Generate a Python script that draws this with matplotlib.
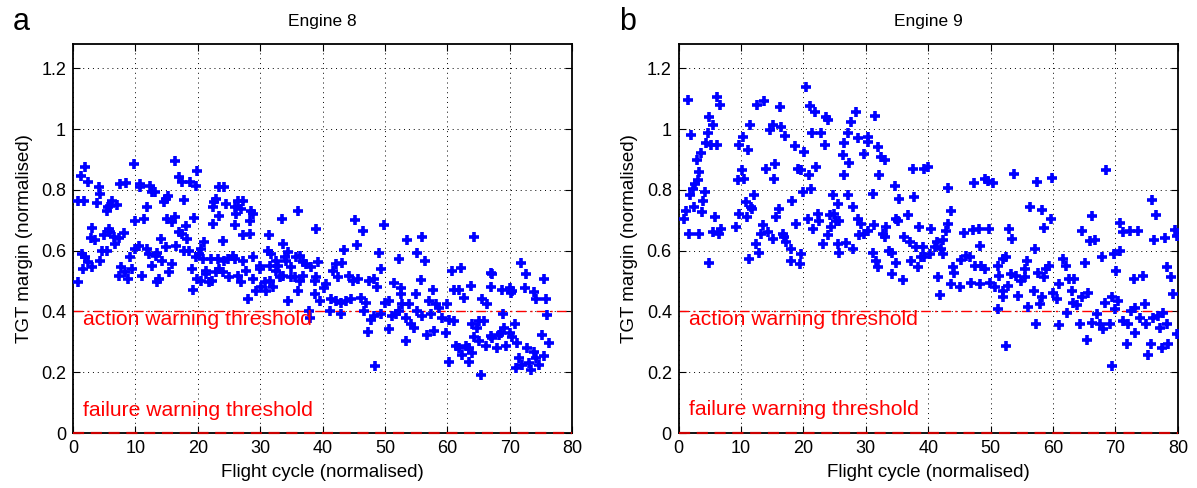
import matplotlib
matplotlib.use("Agg")
import matplotlib.pyplot as plt

plt.rcParams['font.family'] = ['Liberation Sans', 'DejaVu Sans']

# ---------------- Engine 8 data ----------------
e8_x = [1.94,1.29,2.48,4.09,4.36,0.86,1.83,3.82,6.24,5.97,7.05,5.43,5.59,7.58,8.5,9.73,10.7,10.8,12.26,12.7,
        13.1,11.9,11.35,10.0,14.84,15.27,14.57,16.35,16.99,17.53,18.77,19.68,19.84,17.8,19.4,16.35,15.1,15.9,18.07,16.99,
        17.53,18.34,14.03,14.84,16.45,17.8,18.6,3.12,2.9,3.55,4.89,5.7,5.97,6.5,6.77,7.31,8.12,4.62,5.43,1.4,
        1.94,2.48,3.01,1.67,0.86,4.36,7.74,7.31,8.39,8.82,9.2,9.46,10.0,10.54,11.08,11.88,12.15,12.7,13.23,13.5,
        14.3,13.76,13.5,15.38,15.9,19.14,19.25,19.68,20.2,20.5,20.76,21.0,20.5,21.3,21.8,22.1,23.2,22.9,24.0,24.25,
        24.8,25.05,25.6,25.9,26.4,26.9,27.2,28.8,28.0,28.8,29.35,29.9,30.2,30.7,31.0,31.5,31.2,31.8,32.0,32.6,
        32.85,33.1,33.7,33.9,34.2,34.5,34.5,35.0,35.5,35.8,36.3,36.1,36.3,36.9,37.4,37.85,37.96,38.8,39.0,39.0,
        36.1,33.55,31.4,33.7,22.4,22.6,22.9,23.4,24.25,24.5,23.4,22.4,25.9,26.4,27.2,26.1,25.9,26.9,28.55,28.8,
        28.3,27.2,28.3,24.0,21.3,19.95,22.3,23.4,27.75,29.9,31.5,32.6,35.0,36.9,38.2,38.8,39.2,
        45.18,46.4,45.45,49.77,48.97,49.34,53.5,55.9,55.06,56.45,52.3,55.7,57.7,54.95,51.4,52.5,52.55,43.5,42.1,43.1,
        41.6,42.4,44.3,44.8,45.6,47.5,48.3,48.7,40.5,40.3,39.6,41.3,42.1,43.0,43.7,44.5,46.1,46.9,46.7,41.2,
        43.0,47.2,48.4,47.7,48.3,49.3,50.0,50.6,50.7,51.2,51.7,52.3,52.8,53.3,53.3,53.9,54.15,54.7,55.2,56.0,
        56.8,57.1,57.35,57.9,58.15,58.7,59.2,59.75,60.0,60.3,61.1,61.35,61.9,62.4,62.96,63.5,64.0,63.5,60.3,65.4,
        60.8,62.2,61.1,61.9,62.7,63.75,64.3,67.0,67.2,66.95,65.6,66.4,68.7,70.0,70.2,70.4,68.9,64.0,65.1,65.9,
        64.8,64.3,65.1,66.2,67.0,67.2,68.0,68.3,68.6,69.1,69.4,70.0,70.4,70.85,71.2,71.8,72.6,72.5,73.9,74.2,
        75.8,75.5,76.0,75.1,76.3,71.5,71.0,72.0,73.1,73.4,74.2,74.7,75.5,73.9,72.8]
e8_y = [0.875,0.847,0.825,0.809,0.787,0.765,0.765,0.756,0.765,0.748,0.752,0.732,0.743,0.818,0.823,0.886,0.811,0.820,0.814,0.792,
        0.792,0.743,0.704,0.699,0.770,0.781,0.759,0.895,0.844,0.825,0.825,0.814,0.862,0.767,0.708,0.710,0.704,0.693,0.682,0.660,
        0.655,0.639,0.639,0.611,0.617,0.600,0.600,0.675,0.642,0.635,0.650,0.672,0.660,0.644,0.622,0.642,0.657,0.600,0.600,0.589,
        0.578,0.562,0.545,0.540,0.498,0.567,0.547,0.518,0.529,0.507,0.578,0.540,0.605,0.617,0.518,0.605,0.589,0.551,0.584,0.594,
        0.567,0.507,0.496,0.529,0.556,0.540,0.470,0.578,0.589,0.606,0.573,0.628,0.501,0.523,0.496,0.573,0.573,0.529,0.529,0.567,
        0.573,0.512,0.584,0.573,0.518,0.496,0.567,0.578,0.441,0.507,0.468,0.540,0.479,0.496,0.468,0.501,0.600,0.589,0.479,0.567,
        0.551,0.512,0.518,0.578,0.567,0.595,0.435,0.545,0.512,0.578,0.584,0.468,0.501,0.562,0.556,0.402,0.380,0.457,0.512,0.672,
        0.732,0.704,0.650,0.622,0.743,0.759,0.770,0.809,0.809,0.754,0.715,0.688,0.743,0.765,0.765,0.721,0.683,0.737,0.732,0.721,
        0.699,0.650,0.655,0.633,0.534,0.507,0.501,0.540,0.534,0.551,0.551,0.534,0.512,0.518,0.545,0.501,0.562,
        0.702,0.666,0.619,0.686,0.591,0.539,0.635,0.646,0.594,0.565,0.572,0.503,0.470,0.459,0.495,0.476,0.456,0.602,0.556,0.558,
        0.534,0.512,0.517,0.501,0.506,0.501,0.506,0.481,0.490,0.476,0.434,0.440,0.434,0.429,0.434,0.440,0.445,0.429,0.401,0.401,
        0.390,0.333,0.222,0.373,0.384,0.390,0.429,0.434,0.343,0.384,0.390,0.401,0.423,0.379,0.302,0.423,0.359,0.346,0.401,0.384,
        0.324,0.434,0.390,0.335,0.423,0.412,0.379,0.329,0.425,0.373,0.368,0.285,0.280,0.257,0.285,0.280,0.263,0.235,0.233,0.191,
        0.532,0.543,0.470,0.470,0.445,0.484,0.644,0.525,0.523,0.481,0.440,0.423,0.470,0.476,0.462,0.468,0.390,0.359,0.368,0.368,
        0.346,0.315,0.302,0.285,0.318,0.313,0.280,0.324,0.329,0.346,0.285,0.329,0.315,0.359,0.296,0.561,0.523,0.476,0.465,0.440,
        0.440,0.506,0.388,0.324,0.296,0.246,0.213,0.224,0.230,0.208,0.246,0.224,0.252,0.268,0.280]

# ---------------- Engine 9 data ----------------
e9_x = [1.47,2.0,6.16,6.64,4.83,5.47,4.67,4.4,5.2,6.1,3.6,2.9,3.33,3.07,2.69,2.27,1.84,1.2,0.77,2.53,
        3.76,4.29,3.97,1.73,3.23,4.93,5.89,5.57,6.43,6.8,9.2,9.73,9.47,9.73,10.27,11.44,11.07,10.16,10.53,10.8,
        11.6,12.13,11.76,10.96,11.33,12.5,13.73,12.4,12.83,13.47,13.2,14.0,15.5,15.35,14.7,15.07,16.4,16.3,17.1,16.0,
        15.6,15.07,14.27,16.67,16.93,17.2,18.0,18.0,18.16,18.7,18.8,19.07,19.6,19.6,19.4,20.1,20.4,21.05,21.9,21.36,
        22.8,23.6,24.0,23.5,22.0,20.9,21.2,19.9,20.7,22.3,22.5,21.6,23.07,23.9,24.25,24.4,24.9,24.8,25.6,25.2,
        25.7,25.5,25.7,26.8,26.5,26.3,26.5,27.1,27.3,27.6,28.4,28.7,27.2,28.0,27.9,28.8,29.2,28.9,29.7,30.3,
        29.7,30.3,30.4,31.5,32.0,32.4,33.1,32.1,31.2,31.3,31.1,31.6,31.9,32.7,33.1,33.3,33.7,34.2,34.2,34.8,
        35.2,34.7,35.3,34.9,35.9,36.1,36.7,37.7,37.5,37.0,37.2,38.0,38.5,38.3,39.3,39.1,39.3,38.8,
        40.0,43.1,43.7,43.2,42.8,47.3,49.1,49.5,50.4,53.7,57.5,59.9,68.5,75.8,76.5,56.3,58.2,59.6,58.6,66.2,
        64.7,65.9,66.7,70.8,71.2,72.4,73.6,76.2,77.9,79.5,79.8,53.0,53.4,49.8,48.2,47.1,45.7,43.9,44.1,43.6,
        41.6,41.9,45.1,45.2,46.1,46.7,47.5,48.3,46.9,48.3,48.5,49.1,49.9,50.7,51.2,52.0,52.5,51.4,52.0,51.9,
        51.1,52.4,52.8,53.3,54.1,54.4,54.9,55.5,55.9,55.5,57.1,56.0,56.9,57.25,57.6,57.9,58.2,58.6,58.9,59.4,
        60.0,60.6,61.0,61.6,62.1,62.6,63.3,63.0,63.2,63.8,64.6,65.1,65.6,62.2,61.0,64.3,65.5,66.2,67.0,67.5,
        68.0,69.1,69.4,67.9,69.7,70.7,70.1,68.3,69.4,70.4,71.2,72.0,71.8,72.9,74.4,73.2,74.7,74.0,73.2,74.9,
        75.7,75.2,76.0,76.8,77.1,77.7,78.2,78.5,77.4,79.2,78.9,78.2,79.8,72.5,69.9,
        40.5,41.4,41.1,42.1,42.4,40.3,42.3]
e9_y = [1.096,0.982,1.107,1.079,1.041,1.013,0.986,0.953,0.947,0.947,0.922,0.898,0.859,0.831,0.820,0.804,0.782,0.732,0.705,0.743,
        0.727,0.793,0.763,0.655,0.655,0.561,0.710,0.661,0.655,0.672,0.677,0.721,0.831,0.947,0.975,1.013,0.931,0.867,0.837,0.760,
        0.743,0.782,0.738,0.710,0.572,1.079,1.094,0.622,0.594,0.683,0.655,0.870,0.884,0.837,0.997,1.013,1.006,1.074,0.977,0.738,
        0.710,0.639,0.661,0.655,0.644,0.628,0.606,0.567,0.765,0.944,0.688,0.870,0.864,0.589,0.556,0.925,1.140,1.076,1.057,0.988,
        0.988,1.041,1.030,0.947,0.875,0.848,0.804,0.793,0.705,0.721,0.699,0.672,0.622,0.650,0.716,0.677,0.721,0.782,0.754,0.699,
        0.699,0.622,0.594,0.625,0.848,0.914,0.953,0.986,0.887,1.024,1.057,0.972,0.782,0.743,0.606,0.705,0.688,0.650,0.655,0.666,
        0.917,0.975,0.958,1.043,0.942,0.909,0.898,0.848,0.787,0.683,0.591,0.567,0.545,0.655,0.644,0.679,0.600,0.594,0.523,0.705,
        0.699,0.812,0.771,0.561,0.503,0.644,0.716,0.776,0.870,0.628,0.567,0.611,0.677,0.545,0.870,0.611,0.578,0.578,
        0.875,0.807,0.732,0.688,0.666,0.822,0.836,0.829,0.822,0.851,0.825,0.840,0.866,0.767,0.719,0.745,0.734,0.704,0.675,0.715,
        0.664,0.631,0.635,0.690,0.660,0.664,0.664,0.635,0.642,0.668,0.649,0.671,0.638,0.671,0.671,0.668,0.657,0.545,0.525,0.492,
        0.512,0.455,0.479,0.569,0.583,0.578,0.550,0.614,0.495,0.492,0.550,0.539,0.495,0.479,0.550,0.572,0.578,0.517,0.468,0.446,
        0.407,0.286,0.484,0.523,0.517,0.451,0.501,0.512,0.567,0.539,0.605,0.415,0.468,0.360,0.528,0.424,0.446,0.512,0.539,0.550,
        0.462,0.440,0.492,0.572,0.550,0.506,0.506,0.468,0.429,0.422,0.446,0.561,0.462,0.396,0.356,0.360,0.305,0.363,0.391,0.358,
        0.341,0.360,0.220,0.580,0.589,0.600,0.532,0.429,0.446,0.435,0.369,0.358,0.294,0.506,0.517,0.413,0.426,0.380,0.330,0.360,
        0.292,0.257,0.380,0.385,0.347,0.396,0.358,0.292,0.279,0.457,0.514,0.547,0.325,0.402,0.407,
        0.671,0.627,0.611,0.605,0.589,0.589,0.636]

panels = [
    ("a", "Engine 8", e8_x, e8_y, 0.375, 0.075),
    ("b", "Engine 9", e9_x, e9_y, 0.372, 0.078),
]
x_ticks = [0, 10, 20, 30, 40, 50, 60, 70, 80]
y_ticks = [0, 0.2, 0.4, 0.6, 0.8, 1.0, 1.2]
y_ticklabels = ["0", "0.2", "0.4", "0.6", "0.8", "1", "1.2"]
action_level = 0.4
failure_level = 0.0

fig = plt.figure(figsize=(11.97, 4.88), dpi=100)
lefts = [0.061, 0.567]
for (letter, title, xs, ys, ay, fy), left in zip(panels, lefts):
    ax = fig.add_axes([left, 0.1127, 0.417, 0.797])
    ax.plot(xs, ys, linestyle='none', marker='+', color='#0000ff',
            markersize=7, markeredgewidth=2.6, zorder=3)
    ax.axhline(action_level, color='#ff0000', lw=1.0, linestyle=(0, (7, 3, 1.5, 3)), zorder=2)
    ax.axhline(failure_level, color='#cc0000', lw=1.6, linestyle=(0, (5, 3)), zorder=4, clip_on=False)
    ax.text(1.6, ay, "action warning threshold", color='#ff0000', fontsize=15.2, va='center', ha='left', zorder=5)
    ax.text(1.6, fy, "failure warning threshold", color='#ff0000', fontsize=15.2, va='center', ha='left', zorder=5)
    ax.set_xlim(0, 80)
    ax.set_ylim(0, 1.28)
    ax.set_xticks(x_ticks)
    ax.set_yticks(y_ticks)
    ax.set_yticklabels(y_ticklabels)
    ax.grid(True, color='black', linestyle=(0, (1, 4)), linewidth=0.7)
    ax.tick_params(direction='in', top=True, right=True, labelsize=13, length=5, width=0.8, pad=5)
    for s in ax.spines.values():
        s.set_linewidth(1.3)
    ax.set_title(title, fontsize=12.5, pad=13)
    ax.set_xlabel("Flight cycle (normalised)", fontsize=13.5, labelpad=5)
    ax.set_ylabel("TGT margin (normalised)", fontsize=13.5, labelpad=6)
    fig.text(left - 0.05, 0.955, letter, fontsize=22, ha='left', va='center')

fig.savefig("out.png", dpi=100)
